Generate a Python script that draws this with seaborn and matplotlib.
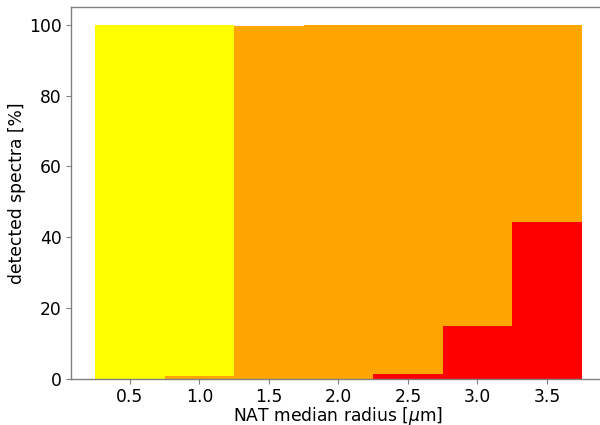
import matplotlib
matplotlib.use("Agg")
import matplotlib.pyplot as plt
import seaborn as sns

radius_yellow = [0.5, 1.0]
yellow_pct = [100.0, 100.0]
radius_orange = [1.0, 1.5, 2.0, 2.5, 3.0, 3.5]
orange_pct = [0.8, 99.7, 100.0, 100.0, 100.0, 100.0]
radius_red = [2.5, 3.0, 3.5]
red_pct = [1.5, 15.0, 44.2]
xticks = [0.5, 1.0, 1.5, 2.0, 2.5, 3.0, 3.5]

plt.rcParams['font.family'] = ['DejaVu Sans']
fs = 12.3

fig = plt.figure(figsize=(6, 4.25), dpi=100)
ax = fig.add_axes([0.118, 0.1085, 0.892, 0.875])

for xs, ys, col in [(radius_yellow, yellow_pct, 'yellow'),
                    (radius_orange, orange_pct, 'orange'),
                    (radius_red, red_pct, 'red')]:
    sns.barplot(x=xs, y=ys, color=col, native_scale=True, width=1.0,
                saturation=1, errorbar=None, ax=ax, linewidth=0)

ax.set_xlim(0.075, 3.925)
ax.set_ylim(0, 105)
ax.set_xticks(xticks)
ax.set_xticklabels([f"{t:.1f}" for t in xticks])
ax.set_yticks([0, 20, 40, 60, 80, 100])
ax.tick_params(labelsize=fs, color='gray', length=3.5, pad=3.0, labelcolor='black')
for s in ax.spines.values():
    s.set_color('gray')
    s.set_linewidth(1)
ax.spines['right'].set_visible(False)
ax.set_xlabel(r"NAT median radius [$\mu$m]", fontsize=fs, labelpad=-0.5, color='black')
ax.set_ylabel("detected spectra [%]", fontsize=fs, labelpad=2, color='black')

fig.savefig("out.png", dpi=100)
